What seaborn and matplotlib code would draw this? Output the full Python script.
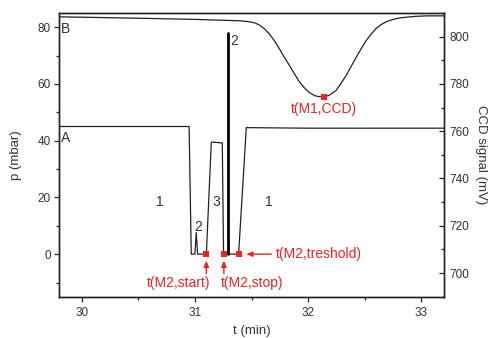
import numpy as np
import pandas as pd
import matplotlib
matplotlib.use("Agg")
import matplotlib.pyplot as plt
import seaborn as sns
from matplotlib.ticker import MultipleLocator

# ---- data ----
# curve A: pressure p (mbar) vs t (min)
t_a = [29.80, 30.949, 30.968, 31.000, 31.012, 31.024, 31.101, 31.145, 31.242, 31.253,
       31.290, 31.386, 31.454, 32.00, 33.20]
p_a = [45.0, 45.0, 0.0, 0.0, 7.6, 0.0, 0.0, 39.5, 39.2, 0.0,
       0.0, 0.0, 44.6, 44.4, 44.4]
# thick spike "2"
t_spike = [31.295, 31.295]
p_spike = [0.0, 78.0]

# curve B: CCD signal (mV) vs t (min)
t_b = [29.80, 30.50, 31.00, 31.40, 31.483, 31.53, 31.571, 31.615, 31.659, 31.703,
       31.747, 31.79, 31.835, 31.88, 31.924, 31.97, 32.012, 32.06, 32.10, 32.136,
       32.19, 32.248, 32.29, 32.336, 32.38, 32.425, 32.47, 32.513, 32.557, 32.601,
       32.645, 32.689, 32.75, 32.807, 32.88, 32.954, 33.05, 33.20]
v_b = [808.4, 807.8, 807.3, 806.7, 806.3, 805.8, 804.9, 803.3, 801.1, 798.2,
       794.8, 791.3, 787.8, 784.2, 780.8, 778.2, 776.3, 775.0, 774.6, 774.5,
       775.3, 777.3, 780.2, 783.6, 787.4, 791.3, 795.0, 798.3, 801.1, 803.5,
       805.1, 806.3, 807.3, 807.9, 808.3, 808.6, 808.8, 808.8]

# markers
t_m2 = [31.101, 31.256, 31.386]
p_m2 = [0.0, 0.0, 0.0]
t_m1 = [32.136]
v_m1 = [774.5]

x_ticks = [30, 31, 32, 33]
y_left_ticks = [0, 20, 40, 60, 80]
y_right_ticks = [700, 720, 740, 760, 780, 800]

RED = "#ee2222"
TXT = "#333333"

sns.set_style("ticks")
plt.rcParams['font.family'] = ['Liberation Sans', 'DejaVu Sans']

fig = plt.figure(figsize=(4.93, 3.38), dpi=100)
ax = fig.add_axes([0.1197, 0.1222, 0.9006 - 0.1197, 0.9615 - 0.1222])
ax2 = ax.twinx()

df_a = pd.DataFrame({"t": t_a, "p": p_a})
df_s = pd.DataFrame({"t": t_spike, "p": p_spike})
df_b = pd.DataFrame({"t": t_b, "v": v_b})

sns.lineplot(data=df_a, x="t", y="p", ax=ax, color="#222222", lw=0.9, sort=False, estimator=None)
sns.lineplot(data=df_s, x="t", y="p", ax=ax, color="black", lw=2.0, sort=False, estimator=None)
sns.lineplot(data=df_b, x="t", y="v", ax=ax2, color="#222222", lw=0.9, sort=False, estimator=None)

sns.scatterplot(x=t_m2, y=p_m2, ax=ax, color=RED, marker="s", s=22, linewidth=0, zorder=5)
sns.scatterplot(x=t_m1, y=v_m1, ax=ax2, color=RED, marker="s", s=22, linewidth=0, zorder=5)

ax.set_xlim(29.8, 33.2)
ax.set_ylim(-15, 85)
ax2.set_ylim(690, 810)

ax.set_xticks(x_ticks)
ax.set_yticks(y_left_ticks)
ax2.set_yticks(y_right_ticks)
ax.xaxis.set_minor_locator(MultipleLocator(0.5))
ax.yaxis.set_minor_locator(MultipleLocator(10))
ax2.yaxis.set_minor_locator(MultipleLocator(10))

for a in (ax, ax2):
    for s in a.spines.values():
        s.set_visible(True)
        s.set_linewidth(1.0)
        s.set_color("#222222")

ax.tick_params(axis="both", which="major", direction="out", length=3.5, width=0.9,
               labelsize=8.5, labelcolor=TXT, pad=2.5)
ax.tick_params(axis="both", which="minor", direction="out", length=2.5, width=0.9)
ax.tick_params(axis="x", pad=4)
ax2.tick_params(axis="y", which="major", direction="in", length=3.5, width=0.9,
                labelsize=8.5, labelcolor=TXT, pad=4)
ax2.tick_params(axis="y", which="minor", direction="in", length=2.5, width=0.9)

ax.set_xlabel("t (min)", fontsize=9.5, color=TXT, labelpad=4)
ax.set_ylabel("p (mbar)", fontsize=9.5, color=TXT, labelpad=11)
ax2.set_ylabel("CCD signal (mV)", fontsize=9.5, color=TXT, rotation=270, labelpad=13)

# annotations
FS = 10
ax.text(29.82, 79.4, "B", fontsize=FS, color=TXT, ha="left", va="center")
ax.text(29.82, 41.0, "A", fontsize=FS, color=TXT, ha="left", va="center")
ax.text(30.688, 18.3, "1", fontsize=FS, color=TXT, ha="center", va="center")
ax.text(31.026, 9.7, "2", fontsize=FS, color=TXT, ha="center", va="center")
ax.text(31.19, 18.3, "3", fontsize=FS, color=TXT, ha="center", va="center")
ax.text(31.35, 75.3, "2", fontsize=FS, color=TXT, ha="center", va="center")
ax.text(31.653, 18.3, "1", fontsize=FS, color=TXT, ha="center", va="center")

ax.text(32.139, 51.2, "t(M1,CCD)", fontsize=FS, color=RED, ha="center", va="center")
ax.text(30.856, -10.2, "t(M2,start)", fontsize=FS, color=RED, ha="center", va="center")
ax.text(31.506, -10.2, "t(M2,stop)", fontsize=FS, color=RED, ha="center", va="center")
ax.text(31.718, 0.0, "t(M2,treshold)", fontsize=FS, color=RED, ha="left", va="center")

arrow = dict(arrowstyle="-|>,head_length=0.35,head_width=0.15", color=RED, lw=1.0,
             shrinkA=0, shrinkB=0)
ax.annotate("", xy=(31.101, -2.3), xytext=(31.101, -6.9), arrowprops=arrow)
ax.annotate("", xy=(31.256, -2.3), xytext=(31.256, -6.9), arrowprops=arrow)
ax.annotate("", xy=(31.454, 0.0), xytext=(31.674, 0.0), arrowprops=arrow)

fig.savefig("out.png", dpi=100)
